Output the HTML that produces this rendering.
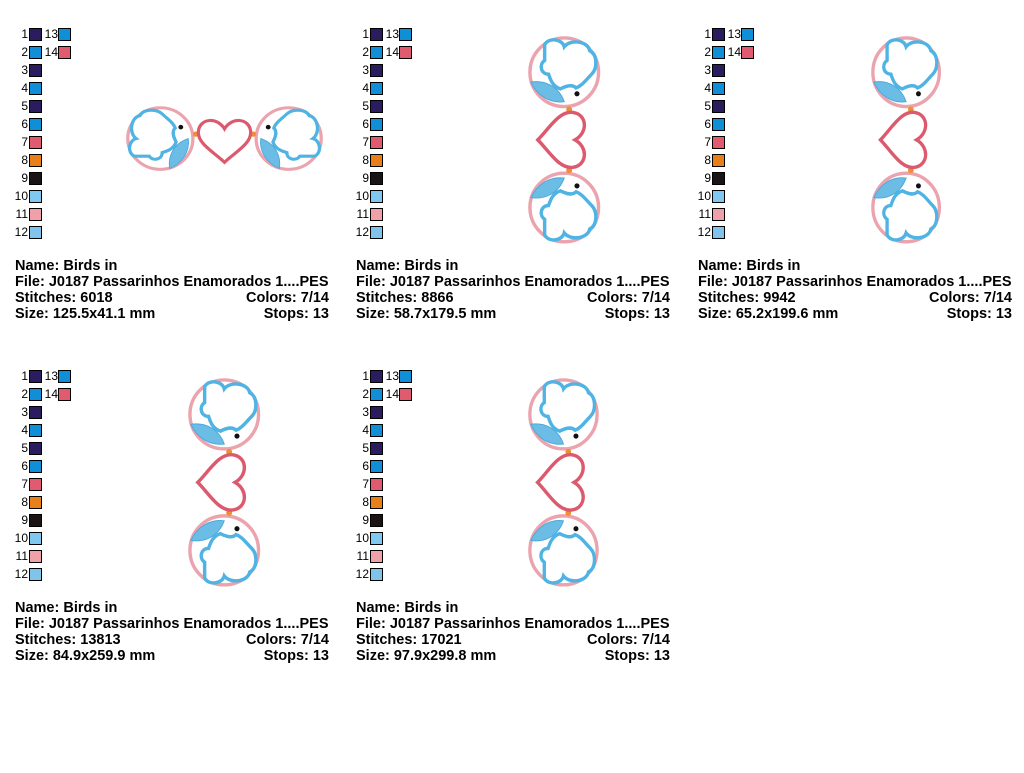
<!DOCTYPE html>
<html><head><meta charset="utf-8"><style>
body{margin:0;width:1024px;height:773px;background:#fff;position:relative;overflow:hidden;font-family:"Liberation Sans",sans-serif}
.p{position:absolute;left:0;top:0;width:341px;height:342px}
.n{position:absolute;width:20px;text-align:right;font-size:12px;line-height:14px;color:#000}
.s{position:absolute;width:11px;height:11px;border:1px solid #000}
.t{position:absolute;left:15px;width:314px;font-weight:bold;font-size:14.5px;line-height:16px;color:#000}
.t div{display:flex;justify-content:space-between;white-space:nowrap}
svg{position:absolute;left:0;top:0}
</style></head><body>

<svg width="1024" height="773" viewBox="0 0 1024 773">
<defs>
<g id="bird">
  <circle cx="38" cy="38" r="35" fill="none" stroke="#eba3ad" stroke-width="3.5"/>
  <path d="M4,48 C18,46 32,52 38,68 C24,70 10,62 4,48 Z" fill="#6cbde6" stroke="#4aa8dc" stroke-width="1"/>
  <path d="M18,10 C22,2 36,4 38,12 C44,4 62,6 64,16 C72,20 72,34 66,40 C60,46 56,52 50,54 C46,50 40,52 34,55 C26,52 24,46 22,40 C14,40 12,30 18,26 Z" fill="#fff" stroke="#4fb3e4" stroke-width="3.5"/>
  <circle cx="51" cy="60" r="2.6" fill="#111"/>
  <circle cx="43" cy="76" r="3" fill="#ec9030"/>
</g>
<g id="des">
  <use href="#bird"/>
  <use href="#bird" transform="translate(0,214) scale(1,-1)"/>
  <path transform="translate(39,107) rotate(90)" d="M0,28 C-12,16 -30,6 -28,-8 C-26,-22 -8,-24 0,-10 C8,-24 26,-22 28,-8 C30,6 12,16 0,28Z" fill="none" stroke="#dc5a6e" stroke-width="3.5"/>
</g>
</defs>
<use href="#des" transform="translate(125,172) rotate(-90) scale(0.88,0.93)"/>
<use href="#des" transform="translate(527,35) scale(0.98,0.98)"/>
<use href="#des" transform="translate(870,35) scale(0.95,0.98)"/>
<use href="#des" transform="translate(187,377) scale(0.98,0.985)"/>
<use href="#des" transform="translate(527,377) scale(0.96,0.985)"/>
</svg>

<div class="p" style="left:0;top:0">
<div class="n" style="left:8px;top:27px">1</div><div class="s" style="left:29px;top:28px;background:#2a1c5e"></div>
<div class="n" style="left:38px;top:27px">13</div><div class="s" style="left:58px;top:28px;background:#0f8fd8"></div>
<div class="n" style="left:8px;top:45px">2</div><div class="s" style="left:29px;top:46px;background:#0f8fd8"></div>
<div class="n" style="left:38px;top:45px">14</div><div class="s" style="left:58px;top:46px;background:#e05a70"></div>
<div class="n" style="left:8px;top:63px">3</div><div class="s" style="left:29px;top:64px;background:#2a1c5e"></div>
<div class="n" style="left:8px;top:81px">4</div><div class="s" style="left:29px;top:82px;background:#0f8fd8"></div>
<div class="n" style="left:8px;top:99px">5</div><div class="s" style="left:29px;top:100px;background:#2a1c5e"></div>
<div class="n" style="left:8px;top:117px">6</div><div class="s" style="left:29px;top:118px;background:#0f8fd8"></div>
<div class="n" style="left:8px;top:135px">7</div><div class="s" style="left:29px;top:136px;background:#e05a70"></div>
<div class="n" style="left:8px;top:153px">8</div><div class="s" style="left:29px;top:154px;background:#e8801a"></div>
<div class="n" style="left:8px;top:171px">9</div><div class="s" style="left:29px;top:172px;background:#1a1414"></div>
<div class="n" style="left:8px;top:189px">10</div><div class="s" style="left:29px;top:190px;background:#80c8f0"></div>
<div class="n" style="left:8px;top:207px">11</div><div class="s" style="left:29px;top:208px;background:#f0a0a8"></div>
<div class="n" style="left:8px;top:225px">12</div><div class="s" style="left:29px;top:226px;background:#80c4ec"></div>
<div class="t" style="top:258px"><div><span>Name: Birds in</span></div><div><span>File: J0187 Passarinhos Enamorados 1....PES</span></div><div><span>Stitches: 6018</span><span>Colors: 7/14</span></div><div><span>Size: 125.5x41.1 mm</span><span>Stops: 13</span></div></div>
</div>

<div class="p" style="left:341px;top:0">
<div class="n" style="left:8px;top:27px">1</div><div class="s" style="left:29px;top:28px;background:#2a1c5e"></div>
<div class="n" style="left:38px;top:27px">13</div><div class="s" style="left:58px;top:28px;background:#0f8fd8"></div>
<div class="n" style="left:8px;top:45px">2</div><div class="s" style="left:29px;top:46px;background:#0f8fd8"></div>
<div class="n" style="left:38px;top:45px">14</div><div class="s" style="left:58px;top:46px;background:#e05a70"></div>
<div class="n" style="left:8px;top:63px">3</div><div class="s" style="left:29px;top:64px;background:#2a1c5e"></div>
<div class="n" style="left:8px;top:81px">4</div><div class="s" style="left:29px;top:82px;background:#0f8fd8"></div>
<div class="n" style="left:8px;top:99px">5</div><div class="s" style="left:29px;top:100px;background:#2a1c5e"></div>
<div class="n" style="left:8px;top:117px">6</div><div class="s" style="left:29px;top:118px;background:#0f8fd8"></div>
<div class="n" style="left:8px;top:135px">7</div><div class="s" style="left:29px;top:136px;background:#e05a70"></div>
<div class="n" style="left:8px;top:153px">8</div><div class="s" style="left:29px;top:154px;background:#e8801a"></div>
<div class="n" style="left:8px;top:171px">9</div><div class="s" style="left:29px;top:172px;background:#1a1414"></div>
<div class="n" style="left:8px;top:189px">10</div><div class="s" style="left:29px;top:190px;background:#80c8f0"></div>
<div class="n" style="left:8px;top:207px">11</div><div class="s" style="left:29px;top:208px;background:#f0a0a8"></div>
<div class="n" style="left:8px;top:225px">12</div><div class="s" style="left:29px;top:226px;background:#80c4ec"></div>
<div class="t" style="top:258px"><div><span>Name: Birds in</span></div><div><span>File: J0187 Passarinhos Enamorados 1....PES</span></div><div><span>Stitches: 8866</span><span>Colors: 7/14</span></div><div><span>Size: 58.7x179.5 mm</span><span>Stops: 13</span></div></div>
</div>

<div class="p" style="left:683px;top:0">
<div class="n" style="left:8px;top:27px">1</div><div class="s" style="left:29px;top:28px;background:#2a1c5e"></div>
<div class="n" style="left:38px;top:27px">13</div><div class="s" style="left:58px;top:28px;background:#0f8fd8"></div>
<div class="n" style="left:8px;top:45px">2</div><div class="s" style="left:29px;top:46px;background:#0f8fd8"></div>
<div class="n" style="left:38px;top:45px">14</div><div class="s" style="left:58px;top:46px;background:#e05a70"></div>
<div class="n" style="left:8px;top:63px">3</div><div class="s" style="left:29px;top:64px;background:#2a1c5e"></div>
<div class="n" style="left:8px;top:81px">4</div><div class="s" style="left:29px;top:82px;background:#0f8fd8"></div>
<div class="n" style="left:8px;top:99px">5</div><div class="s" style="left:29px;top:100px;background:#2a1c5e"></div>
<div class="n" style="left:8px;top:117px">6</div><div class="s" style="left:29px;top:118px;background:#0f8fd8"></div>
<div class="n" style="left:8px;top:135px">7</div><div class="s" style="left:29px;top:136px;background:#e05a70"></div>
<div class="n" style="left:8px;top:153px">8</div><div class="s" style="left:29px;top:154px;background:#e8801a"></div>
<div class="n" style="left:8px;top:171px">9</div><div class="s" style="left:29px;top:172px;background:#1a1414"></div>
<div class="n" style="left:8px;top:189px">10</div><div class="s" style="left:29px;top:190px;background:#80c8f0"></div>
<div class="n" style="left:8px;top:207px">11</div><div class="s" style="left:29px;top:208px;background:#f0a0a8"></div>
<div class="n" style="left:8px;top:225px">12</div><div class="s" style="left:29px;top:226px;background:#80c4ec"></div>
<div class="t" style="top:258px"><div><span>Name: Birds in</span></div><div><span>File: J0187 Passarinhos Enamorados 1....PES</span></div><div><span>Stitches: 9942</span><span>Colors: 7/14</span></div><div><span>Size: 65.2x199.6 mm</span><span>Stops: 13</span></div></div>
</div>

<div class="p" style="left:0;top:342px">
<div class="n" style="left:8px;top:27px">1</div><div class="s" style="left:29px;top:28px;background:#2a1c5e"></div>
<div class="n" style="left:38px;top:27px">13</div><div class="s" style="left:58px;top:28px;background:#0f8fd8"></div>
<div class="n" style="left:8px;top:45px">2</div><div class="s" style="left:29px;top:46px;background:#0f8fd8"></div>
<div class="n" style="left:38px;top:45px">14</div><div class="s" style="left:58px;top:46px;background:#e05a70"></div>
<div class="n" style="left:8px;top:63px">3</div><div class="s" style="left:29px;top:64px;background:#2a1c5e"></div>
<div class="n" style="left:8px;top:81px">4</div><div class="s" style="left:29px;top:82px;background:#0f8fd8"></div>
<div class="n" style="left:8px;top:99px">5</div><div class="s" style="left:29px;top:100px;background:#2a1c5e"></div>
<div class="n" style="left:8px;top:117px">6</div><div class="s" style="left:29px;top:118px;background:#0f8fd8"></div>
<div class="n" style="left:8px;top:135px">7</div><div class="s" style="left:29px;top:136px;background:#e05a70"></div>
<div class="n" style="left:8px;top:153px">8</div><div class="s" style="left:29px;top:154px;background:#e8801a"></div>
<div class="n" style="left:8px;top:171px">9</div><div class="s" style="left:29px;top:172px;background:#1a1414"></div>
<div class="n" style="left:8px;top:189px">10</div><div class="s" style="left:29px;top:190px;background:#80c8f0"></div>
<div class="n" style="left:8px;top:207px">11</div><div class="s" style="left:29px;top:208px;background:#f0a0a8"></div>
<div class="n" style="left:8px;top:225px">12</div><div class="s" style="left:29px;top:226px;background:#80c4ec"></div>
<div class="t" style="top:258px"><div><span>Name: Birds in</span></div><div><span>File: J0187 Passarinhos Enamorados 1....PES</span></div><div><span>Stitches: 13813</span><span>Colors: 7/14</span></div><div><span>Size: 84.9x259.9 mm</span><span>Stops: 13</span></div></div>
</div>

<div class="p" style="left:341px;top:342px">
<div class="n" style="left:8px;top:27px">1</div><div class="s" style="left:29px;top:28px;background:#2a1c5e"></div>
<div class="n" style="left:38px;top:27px">13</div><div class="s" style="left:58px;top:28px;background:#0f8fd8"></div>
<div class="n" style="left:8px;top:45px">2</div><div class="s" style="left:29px;top:46px;background:#0f8fd8"></div>
<div class="n" style="left:38px;top:45px">14</div><div class="s" style="left:58px;top:46px;background:#e05a70"></div>
<div class="n" style="left:8px;top:63px">3</div><div class="s" style="left:29px;top:64px;background:#2a1c5e"></div>
<div class="n" style="left:8px;top:81px">4</div><div class="s" style="left:29px;top:82px;background:#0f8fd8"></div>
<div class="n" style="left:8px;top:99px">5</div><div class="s" style="left:29px;top:100px;background:#2a1c5e"></div>
<div class="n" style="left:8px;top:117px">6</div><div class="s" style="left:29px;top:118px;background:#0f8fd8"></div>
<div class="n" style="left:8px;top:135px">7</div><div class="s" style="left:29px;top:136px;background:#e05a70"></div>
<div class="n" style="left:8px;top:153px">8</div><div class="s" style="left:29px;top:154px;background:#e8801a"></div>
<div class="n" style="left:8px;top:171px">9</div><div class="s" style="left:29px;top:172px;background:#1a1414"></div>
<div class="n" style="left:8px;top:189px">10</div><div class="s" style="left:29px;top:190px;background:#80c8f0"></div>
<div class="n" style="left:8px;top:207px">11</div><div class="s" style="left:29px;top:208px;background:#f0a0a8"></div>
<div class="n" style="left:8px;top:225px">12</div><div class="s" style="left:29px;top:226px;background:#80c4ec"></div>
<div class="t" style="top:258px"><div><span>Name: Birds in</span></div><div><span>File: J0187 Passarinhos Enamorados 1....PES</span></div><div><span>Stitches: 17021</span><span>Colors: 7/14</span></div><div><span>Size: 97.9x299.8 mm</span><span>Stops: 13</span></div></div>
</div>

</body></html>
